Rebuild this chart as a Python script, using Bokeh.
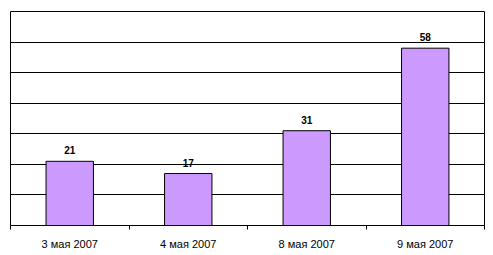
from bokeh.plotting import figure
from bokeh.models import FixedTicker, Range1d, ColumnDataSource
from bokeh.core.properties import value
from bokeh.embed import file_html
from bokeh.resources import INLINE

categories = ["3 мая 2007", "4 мая 2007", "8 мая 2007", "9 мая 2007"]
counts = [21, 17, 31, 58]
y_max = 70
y_step = 10

xs = [i + 0.5 for i in range(len(categories))]
src = ColumnDataSource(dict(x=xs, top=counts, label=[str(c) for c in counts]))

p = figure(width=493, height=255, output_backend="svg", toolbar_location=None,
           x_range=Range1d(0, len(categories)), y_range=Range1d(0, y_max),
           min_border_left=10, min_border_right=9, min_border_top=11, min_border_bottom=30)
p.outline_line_color = "black"
p.outline_line_width = 1
p.background_fill_color = "white"
p.border_fill_color = "white"

p.vbar(x="x", top="top", width=0.4, bottom=0, source=src,
       fill_color="#CC99FF", line_color="black", line_width=1)

p.text(x="x", y="top", text="label", source=src, y_offset=-7,
       text_align="center", text_baseline="bottom",
       text_font=value("Liberation Sans"), text_font_size="10px",
       text_font_style="bold", text_color="black")

p.yaxis.visible = False
p.ygrid.ticker = FixedTicker(ticks=list(range(0, y_max + 1, y_step)))
p.ygrid.grid_line_color = "black"
p.ygrid.grid_line_width = 1
p.xgrid.visible = False

p.xaxis.ticker = FixedTicker(ticks=xs, minor_ticks=list(range(len(categories) + 1)))
p.xaxis.major_label_overrides = {x: c for x, c in zip(xs, categories)}
p.xaxis.major_tick_out = 0
p.xaxis.major_tick_in = 0
p.xaxis.minor_tick_out = 4
p.xaxis.minor_tick_in = 0
p.xaxis.minor_tick_line_color = "black"
p.xaxis.axis_line_color = "black"
p.xaxis.major_label_standoff = 8
p.xaxis.major_label_text_font = "Liberation Sans"
p.xaxis.major_label_text_font_size = "11px"
p.xaxis.major_label_text_color = "black"

open("out.html", "w").write(file_html(p, INLINE))
